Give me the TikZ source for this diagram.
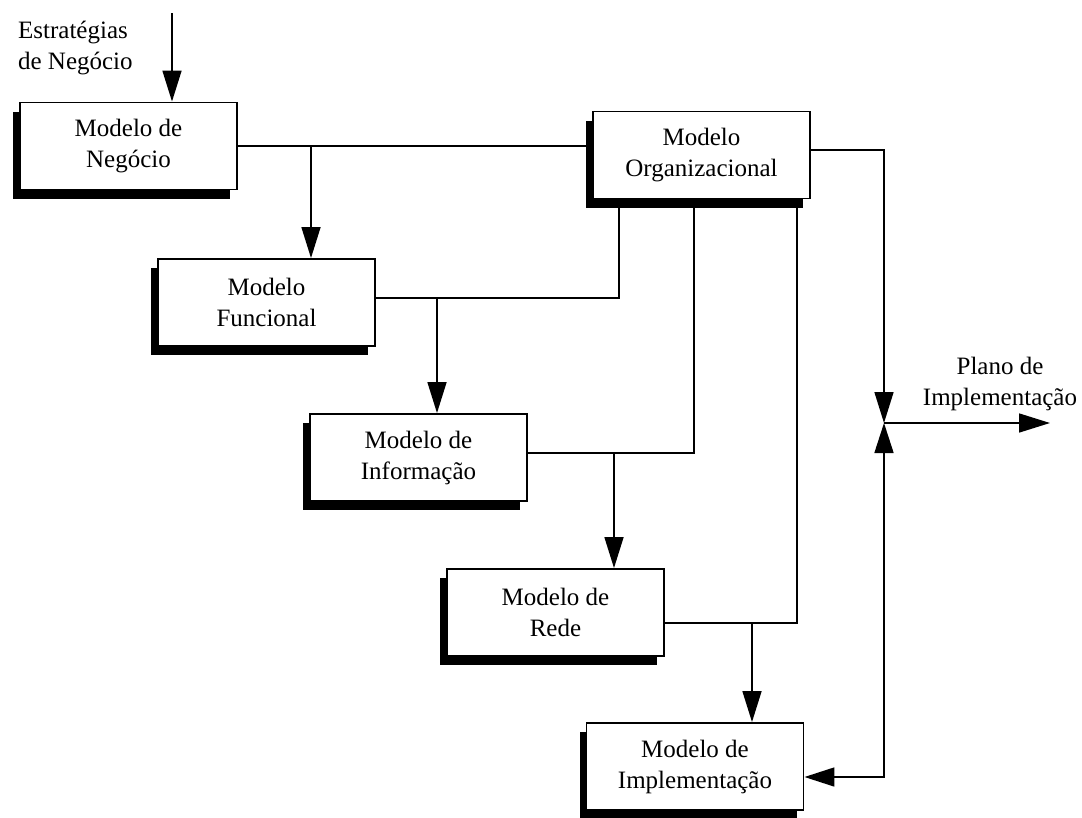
\documentclass[tikz,border=0pt]{standalone}
\usepackage{fontspec}
\setmainfont{Liberation Serif}
\usepackage{tikz}
\usetikzlibrary{arrows.meta,shadows}

\begin{document}
\begin{tikzpicture}[x=1pt, y=-1pt, line width=1.6pt,
  arr/.style={-{Triangle[length=31pt,width=19pt]}},
  both arr/.style={{Triangle[length=30pt,width=19pt]}-{Triangle[length=30pt,width=19pt]}},
  model box/.style={draw, fill=white, line width=1.9pt, align=center,
    minimum width=217pt, minimum height=87pt, inner sep=0pt,
    drop shadow={shadow xshift=-7pt, shadow yshift=-9pt, fill=black, opacity=1}},
  every node/.style={font=\fontsize{25}{31}\selectfont}]

\useasboundingbox (0,0) rectangle (1082,817);

\node [model box] (neg)  at (128.5,146)   {Modelo de\\Negócio};
\node [model box] (org)  at (701.5,155)   {Modelo\\Organizacional};
\node [model box] (fun)  at (266.5,302.5) {Modelo\\Funcional};
\node [model box] (inf)  at (418.5,457.5) {Modelo de\\Informação};
\node [model box] (rede) at (555.5,612.5) {Modelo de\\Rede};
\node [model box] (impl) at (695,766.5)   {Modelo de\\Implementação};

\node [align=left, anchor=west] (strat) at (14,48) {Estratégias\\de Negócio};
\node [align=center] (plano) at (1000,384) {Plano de\\Implementação};

\coordinate (top) at (172,13);
\draw [arr] (top) -- (top |- neg.north);

\draw (neg.east) -- (neg.east -| org.west);
\coordinate (b-fun) at (311,146);
\draw [arr] (b-fun) -- (b-fun |- fun.north);

\foreach \m/\n/\xo/\xb/\dy in {fun/inf/619/437/4.5, inf/rede/694/614/4.5, rede/impl/797/752/-10.5}
{
  \coordinate (\m-r) at ([yshift=\dy pt]\m.east);
  \draw (\xo,0 |- org.south) |- (\m-r);
  \draw [arr] (\xb,0 |- \m-r) -- (\xb,0 |- \n.north);
}

\coordinate (jn) at (884,423);
\coordinate (out) at (1050,423);
\draw [arr] ([yshift=5pt]org.east) -| (jn);
\draw [both arr] ([yshift=-10.5pt]impl.east) -| (jn);
\draw [arr] (jn) -- (out);

\end{tikzpicture}
\end{document}
